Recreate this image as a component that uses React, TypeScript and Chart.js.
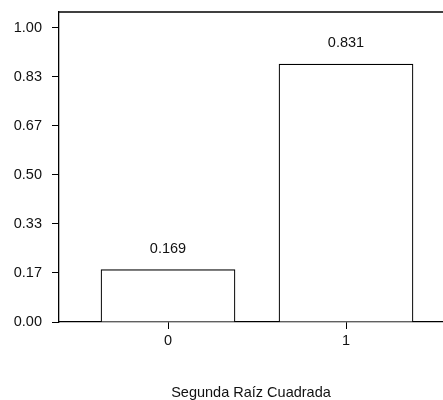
import React, { useEffect, useRef } from "react";
import { Chart, registerables } from "chart.js";

Chart.register(...registerables);

const categories = ["0", "1"];
const barHeights = [0.178, 0.877];
const valueLabels = ["0.169", "0.831"];
const yTickValues = [0, 1 / 6, 2 / 6, 3 / 6, 4 / 6, 5 / 6, 1];
const xAxisTitle = "Segunda Raíz Cuadrada";

const FONT = "'Liberation Sans', Arial, Helvetica, sans-serif";
const FS = 14.5;

const topLinePlugin = {
  id: "topLine",
  afterDraw(chart: any) {
    const { ctx, chartArea } = chart;
    ctx.save();
    ctx.strokeStyle = "#000";
    ctx.lineWidth = 1.3;
    ctx.beginPath();
    ctx.moveTo(chartArea.left, chartArea.top);
    ctx.lineTo(chartArea.right, chartArea.top);
    ctx.stroke();
    ctx.restore();
  },
};

const valueLabelPlugin = {
  id: "valueLabels",
  afterDatasetsDraw(chart: any) {
    const { ctx } = chart;
    const meta = chart.getDatasetMeta(0);
    ctx.save();
    ctx.fillStyle = "#111";
    ctx.font = `${FS}px ${FONT}`;
    ctx.textAlign = "center";
    ctx.textBaseline = "middle";
    meta.data.forEach((bar: any, i: number) => {
      ctx.fillText(valueLabels[i], bar.x, bar.y - 21);
    });
    ctx.restore();
  },
};

export default function App() {
  const ref = useRef<HTMLCanvasElement | null>(null);
  useEffect(() => {
    if (!ref.current) return;
    const chart = new Chart(ref.current, {
      type: "bar",
      data: {
        datasets: [
          {
            data: categories.map((c, i) => ({ x: Number(c), y: barHeights[i] })),
            backgroundColor: "#ffffff",
            borderColor: "#000",
            borderWidth: 1.2,
            barThickness: 134,
          } as any,
        ],
      },
      options: {
        animation: false,
        responsive: true,
        maintainAspectRatio: false,
        layout: { padding: { top: 12, right: 0, left: 0, bottom: 0 } },
        plugins: { legend: { display: false }, tooltip: { enabled: false } },
        scales: {
          x: {
            type: "linear",
            offset: false,
            min: -0.6124,
            max: 1.5449,
            afterBuildTicks: (s: any) => {
              s.ticks = categories.map((c) => ({ value: Number(c) }));
            },
            afterFit: (s: any) => {
              s.height = 78;
              s.paddingLeft = 0;
              s.paddingRight = 0;
            },
            ticks: {
              callback: (v: any) => String(v),
              color: "#111",
              font: { family: FONT, size: FS },
              padding: 3,
              maxRotation: 0,
            },
            grid: {
              offset: false,
              drawOnChartArea: false,
              drawTicks: true,
              tickLength: 7,
              color: "#000",
            },
            border: { display: true, color: "#000", width: 1.3 },
            title: {
              display: true,
              text: xAxisTitle,
              color: "#111",
              font: { family: FONT, size: FS, lineHeight: 0.8 },
              padding: { top: 0, bottom: 1.5 },
            },
          },
          y: {
            min: 0,
            max: 1.054,
            afterBuildTicks: (s: any) => {
              s.ticks = yTickValues.map((v) => ({ value: v }));
            },
            afterFit: (s: any) => {
              s.width = 59;
              s.paddingTop = 0;
              s.paddingBottom = 0;
            },
            ticks: {
              callback: (v: any) => Number(v).toFixed(2),
              color: "#111",
              font: { family: FONT, size: FS },
              padding: 10,
            },
            grid: {
              drawOnChartArea: false,
              drawTicks: true,
              tickLength: 7,
              color: "#000",
            },
            border: { display: true, color: "#000", width: 1.3 },
          },
        },
      },
      plugins: [topLinePlugin, valueLabelPlugin],
    });
    return () => chart.destroy();
  }, []);
  return (
    <div style={{ position: "fixed", left: 0, top: 0, width: 443, height: 400, background: "#fff" }}>
      <canvas ref={ref} />
    </div>
  );
}
